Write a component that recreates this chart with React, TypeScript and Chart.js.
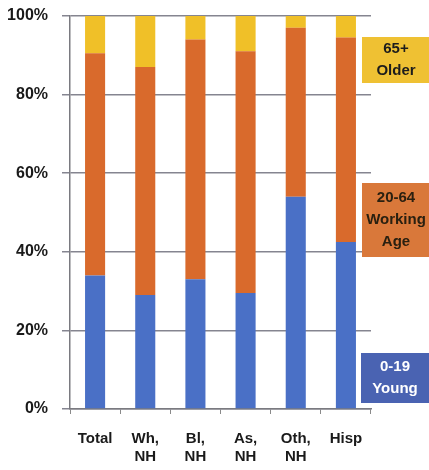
import React, { useEffect, useRef } from "react";
import { Chart, registerables } from "chart.js";

Chart.register(...registerables);

const categories: string[][] = [["Total"], ["Wh,", "NH"], ["Bl,", "NH"], ["As,", "NH"], ["Oth,", "NH"], ["Hisp"]];
const young: number[] = [34, 29, 33, 29.5, 54, 42.5];
const working: number[] = [56.5, 58, 61, 61.5, 43, 52];
const older: number[] = [9.5, 13, 6, 9, 3, 5.5];
const yTicks: number[] = [0, 20, 40, 60, 80, 100];

const boxes = [
  { lines: ["65+", "Older"], bg: "#efc133", fg: "#1c1c1c", x: 362, y: 37, w: 70, h: 46, weight: "bold" },
  { lines: ["20-64", "Working", "Age"], bg: "#d9783a", fg: "#2a2010", x: 362, y: 183, w: 70, h: 74, weight: "bold" },
  { lines: ["0-19", "Young"], bg: "#4a63b2", fg: "#ffffff", x: 361, y: 353, w: 70, h: 50, weight: "bold" },
];

const boxPlugin = {
  id: "sideBoxes",
  afterDraw(chart: any) {
    const ctx = chart.ctx;
    ctx.save();
    for (const b of boxes) {
      ctx.fillStyle = b.bg;
      ctx.fillRect(b.x, b.y, b.w, b.h);
      ctx.fillStyle = b.fg;
      ctx.font = `${b.weight} 15px "Liberation Sans", Arial, sans-serif`;
      ctx.textAlign = "center";
      ctx.textBaseline = "middle";
      const lh = 22;
      const cx = b.x + 34;
      const cy = b.y + b.h / 2 - ((b.lines.length - 1) * lh) / 2;
      b.lines.forEach((l: string, i: number) => ctx.fillText(l, cx, cy + i * lh));
    }
    ctx.restore();
  },
};

export default function App() {
  const ref = useRef<HTMLCanvasElement>(null);
  useEffect(() => {
    if (!ref.current) return;
    const chart = new Chart(ref.current, {
      type: "bar",
      data: {
        labels: categories,
        datasets: [
          { label: "0-19 Young", data: young, backgroundColor: "#4a70c6", barPercentage: 0.4, categoryPercentage: 1 },
          { label: "20-64 Working Age", data: working, backgroundColor: "#d96a2c", barPercentage: 0.4, categoryPercentage: 1 },
          { label: "65+ Older", data: older, backgroundColor: "#f0c028", barPercentage: 0.4, categoryPercentage: 1 },
        ],
      },
      options: {
        animation: false,
        responsive: false,
        maintainAspectRatio: false,
        layout: { padding: { left: 0, right: 58, top: 16, bottom: 0 } },
        plugins: { legend: { display: false }, tooltip: { enabled: false } },
        scales: {
          x: {
            stacked: true,
            afterFit(scale: any) { scale.height = 61; scale.paddingLeft = 0; scale.paddingRight = 0; },
            grid: { display: true, drawOnChartArea: false, drawTicks: true, tickLength: 5, color: "#8a8a8a", offset: true },
            border: { display: true, color: "#7a7a80", width: 1.5 },
            ticks: {
              color: "#1a1a1a",
              font: { family: '"Liberation Sans", Arial, sans-serif', size: 15, weight: "bold", lineHeight: 1.2 },
              padding: 16,
              maxRotation: 0,
              autoSkip: false,
            },
          },
          y: {
            stacked: true,
            min: 0,
            max: 100,
            afterFit(scale: any) { scale.width = 70; scale.paddingTop = 0; scale.paddingBottom = 0; },
            afterBuildTicks(scale: any) { scale.ticks = yTicks.map((v) => ({ value: v })); },
            grid: { color: "#858590", lineWidth: 1.5, tickLength: 8 },
            border: { display: true, color: "#7a7a80", width: 1.5 },
            ticks: {
              color: "#1a1a1a",
              font: { family: '"Liberation Sans", Arial, sans-serif', size: 16, weight: "bold" },
              padding: 14,
              callback: (v: any) => `${v}%`,
            },
          },
        },
      },
      plugins: [boxPlugin],
    });
    return () => chart.destroy();
  }, []);
  return (
    <div style={{ position: "fixed", left: 0, top: 0, width: 429, height: 470, background: "#fff" }}>
      <canvas ref={ref} width={429} height={470} style={{ width: 429, height: 470 }} />
    </div>
  );
}
